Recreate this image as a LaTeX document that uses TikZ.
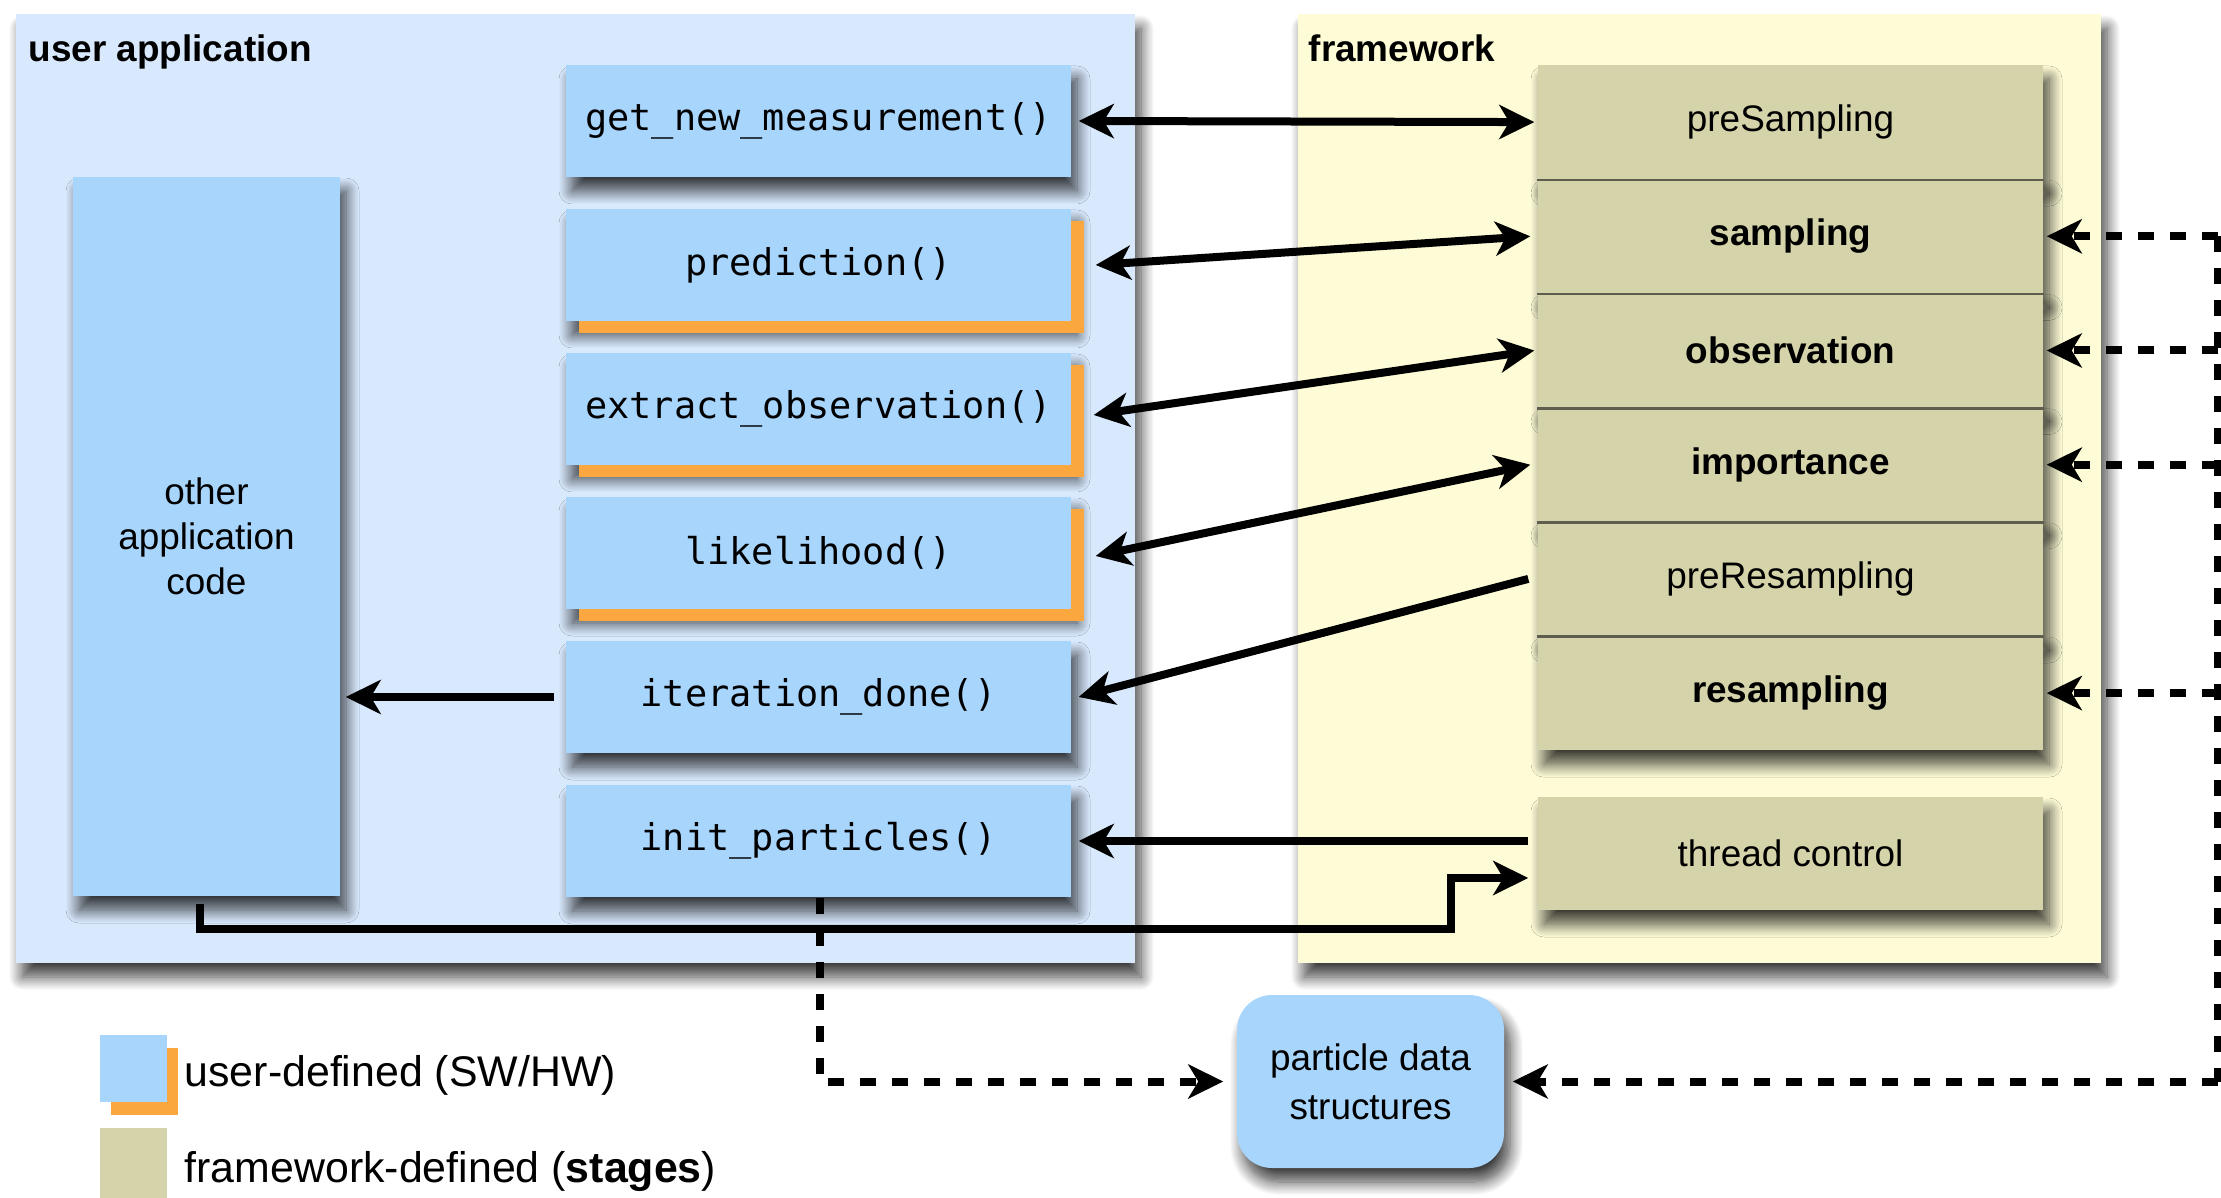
\documentclass[tikz,border=0pt]{standalone}
\usepackage{fontspec}
\setmainfont{Liberation Sans}
\newfontfamily\mono{DejaVu Sans Mono}
\usetikzlibrary{arrows.meta,shadows,shadows.blur}
\definecolor{appbg}{HTML}{D9E9FD}
\definecolor{userblue}{HTML}{A8D5FC}
\definecolor{hworange}{HTML}{FBA73F}
\definecolor{fwbg}{HTML}{FEFCD6}
\definecolor{stagebg}{HTML}{D5D3A9}
\definecolor{sepgray}{HTML}{5E5D4E}
\newcommand\boxfont{\fontsize{10.5}{12.8}\selectfont}
\newcommand\keyfont{\fontsize{12.2}{14}\selectfont}
\tikzset{
	soft/.style={blur shadow={shadow xshift=0.6mm, shadow yshift=-1.4mm, shadow blur radius=1.3mm, shadow blur steps=12, shadow opacity=75}},
	panel/.style={soft, inner sep=0pt, minimum height=94.9mm},
	fnbox/.style={soft, fill=userblue, inner sep=0pt, minimum width=50.5mm, minimum height=11.2mm, font=\mono\fontsize{10.5}{12}\selectfont},
	hwbox/.style={fnbox, general shadow={fill=hworange, shadow xshift=1.3mm, shadow yshift=-1.2mm}},
	stagebox/.style={soft, fill=stagebg, inner sep=0pt, minimum width=50.5mm, minimum height=11.42mm, font=\boxfont},
	plain/.style={anchor=base west, inner sep=0pt},
	>={Stealth[length=3.5mm, width=3.4mm, inset=1mm]},
	link/.style={line width=0.8mm, ->},
	twoway/.style={line width=0.8mm, <->},
	dashlink/.style={line width=0.8mm, dash pattern=on 1.6mm off 1.6mm},
}
\begin{document}
\begin{tikzpicture}[x=0.1mm, y=-0.1mm]
	\useasboundingbox (0,0) rectangle (2221,1198);
	% the two panels
	\node[panel, fill=appbg, minimum width=111.9mm] (app) at (575.5,488.5) {};
	\node[panel, fill=fwbg, minimum width=80.3mm] (fw) at (1699.5,488.5) {};
	\node[plain, font=\boxfont\bfseries] (apptitle) at (28,62) {user application};
	\node[plain, font=\boxfont\bfseries] (fwtitle) at (1308,62) {framework};
	% user side
	\node[fnbox, font=\boxfont, align=center, minimum width=26.7mm, minimum height=71.9mm] (other) at (206.5,536.5) {other\\application\\code};
	\node[fnbox] (getm) at (818.5,121) {get\_new\_measurement()};
	\node[hwbox] (pred) at (818.5,265) {prediction()};
	\node[hwbox] (extr) at (818.5,409) {extract\_observation()};
	\node[hwbox] (likel) at (818.5,553) {likelihood()};
	\node[fnbox] (iter) at (818.5,697) {iteration\_done()};
	\node[fnbox] (init) at (818.5,841) {init\_particles()};
	% framework stages
	\node[stagebox] (presamp) at (1790.5,122.1) {preSampling};
	\node[stagebox] (samp) at (1790.5,236.3) {\bfseries sampling};
	\node[stagebox] (obs) at (1790.5,350.5) {\bfseries observation};
	\node[stagebox] (imp) at (1790.5,464.7) {\bfseries importance};
	\node[stagebox] (preres) at (1790.5,578.9) {preResampling};
	\node[stagebox] (resamp) at (1790.5,693.1) {\bfseries resampling};
	\foreach \s in {presamp,samp,obs,imp,preres}
		\draw[sepgray, line width=0.25mm] (\s.south west) -- (\s.south east);
	\node[stagebox, minimum height=11.3mm] (thread) at (1790.5,853.5) {thread control};
	\node[fnbox, font=\boxfont, align=center, rounded corners=3.5mm, minimum width=26.7mm, minimum height=17.3mm] (part) at (1370.5,1081.5) {particle data\\[0.4mm]structures};
	% calls
	\draw[twoway] ([xshift=0.7mm]getm.east) -- ([xshift=-0.3mm]presamp.west);
	\draw[twoway] ([xshift=2.4mm]pred.east) -- ([xshift=-0.7mm]samp.west);
	\draw[twoway] ([xshift=2.2mm,yshift=-0.6mm]extr.east) -- ([xshift=-0.3mm]obs.west);
	\draw[twoway] ([xshift=2.4mm,yshift=-0.3mm]likel.east) -- ([xshift=-0.7mm]imp.west);
	\draw[link] ([xshift=-0.9mm]preres.west) -- ([xshift=0.7mm]iter.east);
	\draw[link] ([xshift=-0.9mm]thread.west |- init.east) -- ([xshift=0.7mm]init.east);
	\draw[link] ([xshift=-1.1mm]iter.west) -- ([xshift=0.5mm]iter.west -| other.east);
	\coordinate (bend) at (1451,929);
	\draw[link] ([xshift=-0.65mm,yshift=-0.7mm]other.south) |- (bend) |- ([xshift=-0.9mm,yshift=-2.45mm]thread.west);
	% data access
	\coordinate (rail) at (2218,0);
	\draw[dashlink] (rail |- samp.east) -- (rail |- part.east);
	\foreach \s in {samp,obs,imp,resamp}
		\draw[dashlink, ->] (rail |- \s.east) -- ([xshift=0.3mm]\s.east);
	\draw[dashlink, ->] (rail |- part.east) -- ([xshift=0.8mm]part.east);
	\draw[dashlink, ->] ([xshift=0.15mm]init.south) |- ([xshift=-1.3mm]part.west);
	% key
	\fill[hworange] (111,1048) rectangle (178,1115);
	\fill[userblue] (100,1035) rectangle (167,1102);
	\fill[stagebg] (100,1128) rectangle (167,1198);
	\node[plain, font=\keyfont] (keyuser) at (184,1086) {user-defined (SW/HW)};
	\node[plain, font=\keyfont] (keyfw) at (184,1182) {framework-defined (\textbf{stages})};
\end{tikzpicture}
\end{document}
